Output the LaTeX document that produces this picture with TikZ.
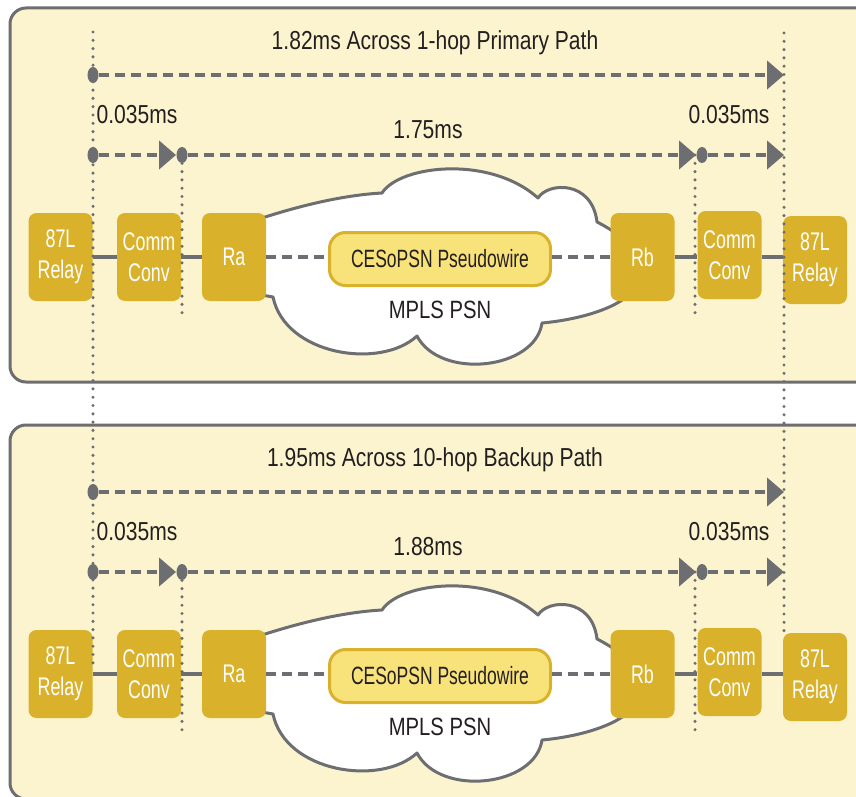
\documentclass[tikz,border=0pt]{standalone}
\usepackage{fontspec}
\setmainfont{Liberation Sans}[FakeStretch=0.81]
\newfontfamily\boxfont{Liberation Sans}[FakeStretch=0.7]
\usetikzlibrary{arrows.meta,shapes.geometric}
\definecolor{panelfill}{RGB}{252,244,207}
\definecolor{linegray}{RGB}{109,110,113}
\definecolor{gold}{RGB}{218,177,43}
\definecolor{pwfill}{RGB}{248,226,122}
\definecolor{txt}{RGB}{35,31,32}
\tikzset{
 panel/.style={draw=linegray, line width=3pt, fill=panelfill, rounded corners=16pt},
 goldbox/.style={fill=gold, rounded corners=8pt, text=white, font=\boxfont\fontsize{25.5pt}{31pt}\selectfont, align=center, inner sep=0pt, minimum width=64pt, minimum height=88pt},
 pwbox/.style={fill=pwfill, draw=gold, line width=3pt, rounded corners=16pt, minimum width=221pt, minimum height=53pt, font=\boxfont\fontsize{25pt}{30pt}\selectfont, text=txt, inner sep=0pt},
 mslabel/.style={text=txt, font=\fontsize{26pt}{30pt}\selectfont, inner sep=0pt},
 cloudlbl/.style={text=txt, font=\fontsize{25pt}{30pt}\selectfont, inner sep=0pt},
 dotnode/.style={ellipse, fill=linegray, minimum width=11pt, minimum height=16pt, inner sep=0pt},
 dashline/.style={draw=linegray, line width=4.5pt, dash pattern=on 10pt off 6pt},
 tipline/.style={dashline, -{Triangle[length=17pt,width=28pt]}},
 guide/.style={draw=linegray, line width=3.4pt, line cap=round, dash pattern=on 0pt off 8.3pt},
 wire/.style={draw=linegray, line width=4pt},
 cloudshape/.style={fill=white, draw=linegray, line width=3pt, line join=round},
}
\newcommand\drawpanel[4]{%
\begin{scope}[shift={(0,#2)}]
 \path[panel] (10,8) rectangle (900,382);
 \path[cloudshape] (250,222) .. controls (300,205) and (345,195) .. (382,193)
   .. controls (400,165) and (490,155) .. (538,198)
   .. controls (548,182) and (592,180) .. (597,222)
   .. controls (605,226) and (615,232) .. (625,240)
   -- (632,292)
   .. controls (615,310) and (575,320) .. (542,323)
   .. controls (535,370) and (440,380) .. (417,336)
   .. controls (380,370) and (285,355) .. (273,297)
   -- (250,293) -- cycle;
 \node[goldbox] (#1relayL) at (60.5,257) {87L\\Relay};
 \node[goldbox] (#1commL) at (149,257) {Comm\\Conv};
 \node[goldbox] (#1ra) at (234,257) {Ra};
 \node[goldbox] (#1rb) at (642.5,257) {Rb};
 \node[goldbox] (#1commR) at (729.5,255) {Comm\\Conv};
 \node[goldbox] (#1relayR) at (815,260) {87L\\Relay};
 \node[pwbox] (#1pw) at (440,259) {CESoPSN Pseudowire};
 \node[cloudlbl] (#1mpls) at (440,310) {MPLS PSN};
 \draw[wire] (#1relayL) -- (#1commL);
 \draw[wire] (#1commL) -- (#1ra);
 \draw[wire] (#1rb.east) -- (#1rb.east -| #1commR.west);
 \draw[wire] (#1commR.east |- #1rb.east) -- (#1rb.east -| #1relayR.west);
 \draw[dashline] (#1ra.east) -- (#1pw.west |- #1ra.east);
 \draw[dashline] (#1pw.east |- #1rb.west) -- (#1rb.west);
 \coordinate (#1g1a) at (182,155); \coordinate (#1g1b) at (182,320);
 \coordinate (#1g2a) at (695,155); \coordinate (#1g2b) at (695,320);
 \draw[guide] (#1g1a) -- (#1g1b);
 \draw[guide] (#1g2a) -- (#1g2b);
 \node[dotnode] (#1d1) at (93,75) {};
 \coordinate (#1e1) at (784,75);
 \draw[tipline] (#1d1) -- (#1e1);
 \node[dotnode] (#1d2) at (93,155) {};
 \coordinate (#1e2) at (176,155);
 \draw[tipline] (#1d2) -- (#1e2);
 \node[dotnode] (#1d3) at (182,155) {};
 \coordinate (#1e3) at (696,155);
 \draw[tipline] (#1d3) -- (#1e3);
 \node[dotnode] (#1d4) at (702,155) {};
 \coordinate (#1e4) at (784,155);
 \draw[tipline] (#1d4) -- (#1e4);
 \node[mslabel] (#1title) at (435,43) {#3};
 \node[mslabel] (#1lefttime) at (137,115) {0.035ms};
 \node[mslabel] (#1midtime) at (428,130) {#4};
 \node[mslabel] (#1righttime) at (729,115) {0.035ms};
\end{scope}}
\begin{document}
\begin{tikzpicture}[x=1pt,y=-1pt]
 \clip (0,0) rectangle (856,797);
 \fill[white] (0,0) rectangle (856,797);
 \drawpanel{t}{0}{1.82ms Across 1-hop Primary Path}{1.75ms}
 \drawpanel{b}{417}{1.95ms Across 10-hop Backup Path}{1.88ms}
 \coordinate (gA1) at (93,32); \coordinate (gA2) at (93,663);
 \coordinate (gB1) at (784,33); \coordinate (gB2) at (784,637);
 \draw[guide] (gA1) -- (gA2);
 \draw[guide] (gB1) -- (gB2);
\end{tikzpicture}
\end{document}
